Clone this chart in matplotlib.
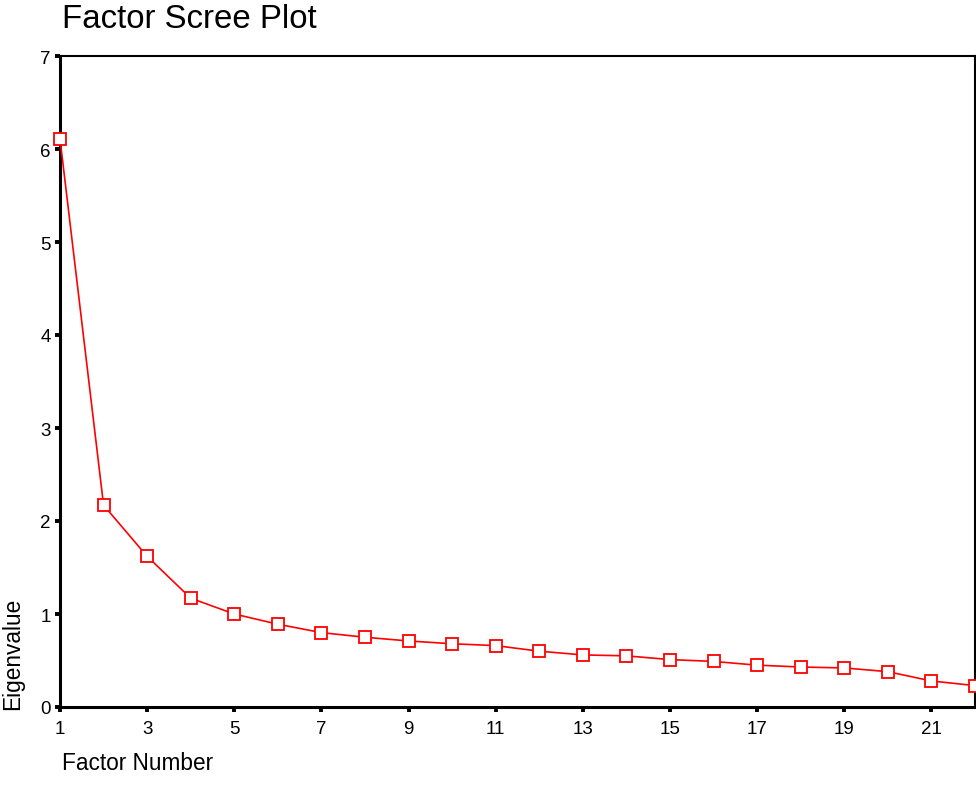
import matplotlib.pyplot as plt

# eigenvalues
factors = list(range(1, 23))
eigenvalues = [6.11, 2.17, 1.62, 1.17, 1.00, 0.89, 0.80, 0.75, 0.71, 0.68, 0.66,
               0.60, 0.56, 0.55, 0.51, 0.49, 0.45, 0.43, 0.42, 0.38, 0.28, 0.23]
x_ticks = list(range(1, 23, 2))
y_ticks = list(range(0, 8))

plt.rcParams['font.family'] = ['Liberation Sans', 'DejaVu Sans']

fig = plt.figure(figsize=(9.76, 8.03), dpi=100)
ax = fig.add_axes([60 / 976, 95 / 803, 915 / 976, 651 / 803])

ax.plot(factors, eigenvalues, color='#ff0000', lw=1.2, marker='s', ms=8.5,
        mfc='white', mec='#ff0000', mew=1.3, clip_on=False, zorder=3)

ax.set_xlim(1, 22)
ax.set_ylim(0, 7)
ax.set_xticks(x_ticks)
ax.set_yticks(y_ticks)
ax.tick_params(axis='both', labelsize=13.5, direction='out', length=3.5,
               width=2.8, color='black')
ax.tick_params(axis='y', pad=3)
ax.tick_params(axis='x', pad=6)

for side in ['left', 'bottom']:
    ax.spines[side].set_linewidth(2.2)
for side in ['top', 'right']:
    ax.spines[side].set_linewidth(1.5)

fig.text(62 / 976, 1 - 19 / 803, 'Factor Scree Plot', fontsize=23.8,
         ha='left', va='center')
fig.text(62 / 976, 1 - 764 / 803, 'Factor Number', fontsize=16.3,
         ha='left', va='center')
fig.text(13 / 976, 1 - 710 / 803, 'Eigenvalue', fontsize=16.3,
         rotation=90, ha='center', va='bottom')

fig.savefig('out.png', dpi=100)
